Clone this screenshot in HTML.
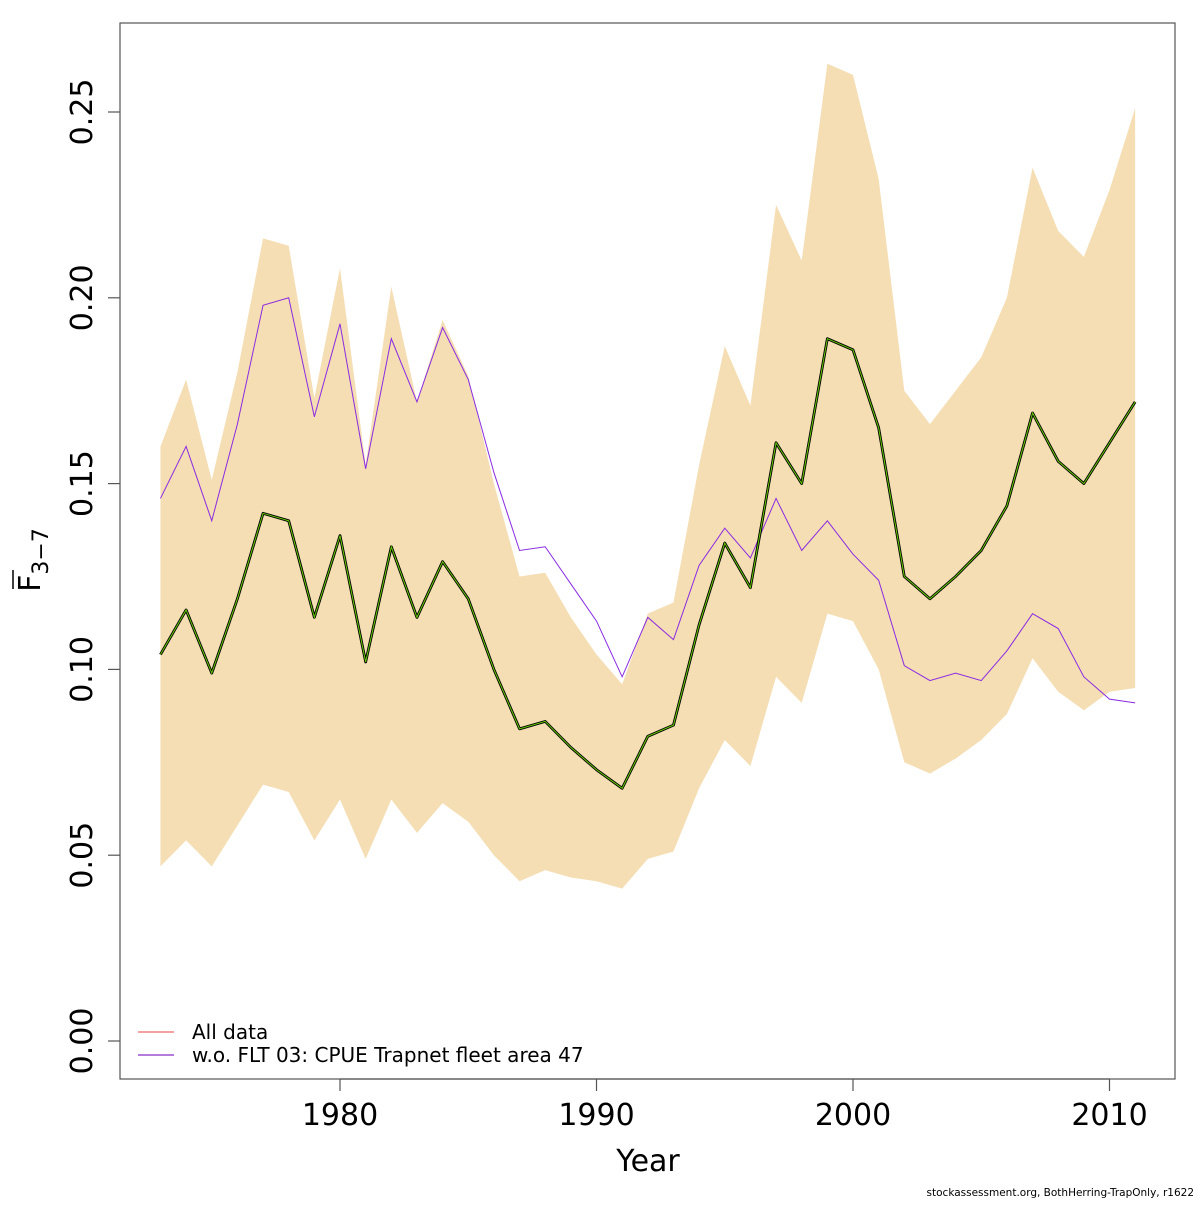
<!DOCTYPE html>
<html><head><meta charset="utf-8"><style>
body{margin:0;background:#fff;}
svg text{font-family:"DejaVu Sans","Liberation Sans",sans-serif;fill:#000;}
</style></head><body>
<svg id="chart" width="1200" height="1200" xmlns="http://www.w3.org/2000/svg">
<rect x="0" y="0" width="1200" height="1200" fill="#fff"/>
<g id="plot"></g>
<rect x="120" y="23" width="1055" height="1056" fill="none" stroke="#555" stroke-width="1.2"/>
<g id="axes"></g>
<text x="648" y="1171" font-size="30" text-anchor="middle">Year</text>
<g transform="translate(40,560) rotate(-90)">
<text x="0" y="0" font-size="30" text-anchor="middle">F<tspan font-size="22" dy="8">3−7</tspan></text>
<line x1="-29" y1="-27" x2="-10" y2="-27" stroke="#000" stroke-width="1.5"/>
</g>
<g>
<line x1="138" y1="1032" x2="174" y2="1032" stroke="#f08080" stroke-width="1.5"/>
<text x="192" y="1039" font-size="20">All data</text>
<line x1="138" y1="1055" x2="174" y2="1055" stroke="#9b4fd0" stroke-width="1.5"/>
<text x="192" y="1062" font-size="20">w.o. FLT 03: CPUE Trapnet fleet area 47</text>
</g>
<text x="1194" y="1196" font-size="10.5" text-anchor="end">stockassessment.org, BothHerring-TrapOnly, r1622</text>
</svg>
<script>
const years = [1973,1974,1975,1976,1977,1978,1979,1980,1981,1982,1983,1984,1985,1986,1987,1988,1989,1990,1991,1992,1993,1994,1995,1996,1997,1998,1999,2000,2001,2002,2003,2004,2005,2006,2007,2008,2009,2010,2011];
const fbar = [0.104,0.116,0.099,0.119,0.142,0.140,0.114,0.136,0.102,0.133,0.114,0.129,0.119,0.100,0.084,0.086,0.079,0.073,0.068,0.082,0.085,0.112,0.134,0.122,0.161,0.150,0.189,0.186,0.165,0.125,0.119,0.125,0.132,0.144,0.169,0.156,0.150,0.161,0.172];
const upper = [0.160,0.178,0.151,0.180,0.216,0.214,0.173,0.208,0.155,0.203,0.172,0.194,0.179,0.150,0.125,0.126,0.114,0.104,0.096,0.115,0.118,0.155,0.187,0.171,0.225,0.210,0.263,0.260,0.232,0.175,0.166,0.175,0.184,0.200,0.235,0.218,0.211,0.229,0.251];
const lower = [0.047,0.054,0.047,0.058,0.069,0.067,0.054,0.065,0.049,0.065,0.056,0.064,0.059,0.050,0.043,0.046,0.044,0.043,0.041,0.049,0.051,0.068,0.081,0.074,0.098,0.091,0.115,0.113,0.100,0.075,0.072,0.076,0.081,0.088,0.103,0.094,0.089,0.094,0.095];
const woFlt03 = [0.146,0.160,0.140,0.166,0.198,0.200,0.168,0.193,0.154,0.189,0.172,0.192,0.178,0.153,0.132,0.133,0.123,0.113,0.098,0.114,0.108,0.128,0.138,0.130,0.146,0.132,0.140,0.131,0.124,0.101,0.097,0.099,0.097,0.105,0.115,0.111,0.098,0.092,0.091];
const xTicks = [1980,1990,2000,2010];
const yTicks = [0,0.05,0.10,0.15,0.20,0.25];
const yTickLabels = ["0.00","0.05","0.10","0.15","0.20","0.25"];

const NS="http://www.w3.org/2000/svg";
const X = yr => 340 + (yr-1980)*25.65;
const Y = v => 1041 - v*3716;
const plot=document.getElementById('plot'), axes=document.getElementById('axes');
function mk(tag, attrs, parent){const e=document.createElementNS(NS,tag);for(const k in attrs)e.setAttribute(k,attrs[k]);parent.appendChild(e);return e;}

let pts = years.map((y,i)=>X(y)+','+Y(upper[i]));
for(let i=years.length-1;i>=0;i--) pts.push(X(years[i])+','+Y(lower[i]));
const band = mk('polygon',{points:pts.join(' '),fill:'#f5deb3'},plot);



const wo = mk('polyline',{points:years.map((y,i)=>X(y)+','+Y(woFlt03[i])).join(' '),fill:'none',stroke:'#8a2be2','stroke-width':1},plot);



const fp = years.map((y,i)=>X(y)+','+Y(fbar[i])).join(' ');
const l1 = mk('polyline',{points:fp,fill:'none',stroke:'#000','stroke-width':2.8,'stroke-linejoin':'round'},plot);


const l2 = mk('polyline',{points:fp,fill:'none',stroke:'#66cc00','stroke-width':1},plot);



mk('line',{x1:X(xTicks[0]),y1:1079,x2:X(xTicks[xTicks.length-1]),y2:1079,stroke:'#555','stroke-width':1.2},axes);
xTicks.forEach(t=>{
  const tk=mk('line',{x1:X(t),y1:1079,x2:X(t),y2:1091,stroke:'#555','stroke-width':1.2},axes);
  
  
  const tx=mk('text',{x:X(t),y:1125,'font-size':30,'text-anchor':'middle'},axes);
  tx.textContent=t;
  
  
});
yTicks.forEach((t,i)=>{
  const tk=mk('line',{x1:108,y1:Y(t),x2:120,y2:Y(t),stroke:'#555','stroke-width':1.2},axes);
  
  
  const tx=mk('text',{x:0,y:0,'font-size':30,'text-anchor':'middle',transform:`translate(92,${Y(t)}) rotate(-90)`},axes);
  tx.textContent=yTickLabels[i];
  
  
});
</script>
</body></html>
